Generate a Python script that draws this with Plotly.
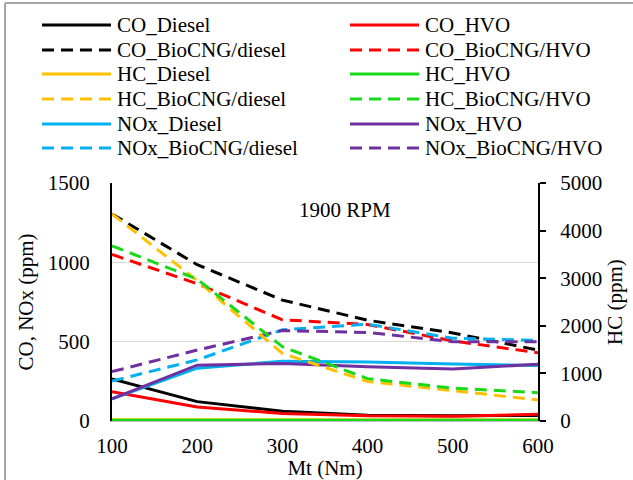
import plotly.graph_objects as go

torque = [100, 200, 300, 400, 500, 600]

co_diesel = [265, 122, 62, 37, 33, 35]
co_hvo = [185, 88, 48, 33, 30, 42]
co_biocng_diesel = [1305, 985, 762, 635, 555, 447]
co_biocng_hvo = [1050, 865, 638, 608, 505, 430]

hc_diesel = [25, 25, 24, 24, 24, 25]
hc_hvo = [15, 15, 15, 15, 15, 15]
hc_biocng_diesel = [4350, 2950, 1420, 830, 640, 440]
hc_biocng_hvo = [3680, 2980, 1560, 890, 690, 595]

nox_diesel = [140, 333, 376, 372, 360, 350]
nox_hvo = [140, 352, 362, 342, 328, 358]
nox_biocng_diesel = [252, 385, 575, 610, 522, 508]
nox_biocng_hvo = [311, 447, 570, 558, 500, 500]

names = ["CO_Diesel", "CO_HVO", "CO_BioCNG/diesel", "CO_BioCNG/HVO",
         "HC_Diesel", "HC_HVO", "HC_BioCNG/diesel", "HC_BioCNG/HVO",
         "NOx_Diesel", "NOx_HVO", "NOx_BioCNG/diesel", "NOx_BioCNG/HVO"]

BLACK, RED, ORANGE, GREEN, CYAN, PURPLE = "#000000", "#FF0000", "#FFC000", "#19D919", "#00B0F0", "#7030A0"
DASH = "12px,7px"

series = [
    (names[0], co_diesel, BLACK, "solid", "y"),
    (names[1], co_hvo, RED, "solid", "y"),
    (names[2], co_biocng_diesel, BLACK, DASH, "y"),
    (names[3], co_biocng_hvo, RED, DASH, "y"),
    (names[4], hc_diesel, ORANGE, "solid", "y2"),
    (names[5], hc_hvo, GREEN, "solid", "y2"),
    (names[6], hc_biocng_diesel, ORANGE, DASH, "y2"),
    (names[7], hc_biocng_hvo, GREEN, DASH, "y2"),
    (names[8], nox_diesel, CYAN, "solid", "y"),
    (names[9], nox_hvo, PURPLE, "solid", "y"),
    (names[10], nox_biocng_diesel, CYAN, DASH, "y"),
    (names[11], nox_biocng_hvo, PURPLE, DASH, "y"),
]

FONT = "Liberation Serif, Times New Roman, serif"
FS = 21
W, H = 633, 480
L, R, T, B = 112, 95, 183, 59
PW, PH = W - L - R, H - T - B

def px(x):
    return (x - L) / PW

def py(y):
    return (H - B - y) / PH

fig = go.Figure()
for name, vals, color, dash, yax in series:
    fig.add_trace(go.Scatter(x=torque, y=vals, name=name, mode="lines", yaxis=yax,
                             line=dict(color=color, width=3, dash=dash), showlegend=False))

# manual two-column legend
shapes = []
annotations = []
col_x = [42, 350]
row_y = [25, 50, 74, 99, 124, 148]
for i, (name, vals, color, dash, yax) in enumerate(series):
    r, c = i // 2, i % 2
    x0 = col_x[c]
    yy = row_y[r]
    shapes.append(dict(type="line", xref="paper", yref="paper",
                       x0=px(x0), x1=px(x0 + 69), y0=py(yy), y1=py(yy),
                       line=dict(color=color, width=3, dash=dash)))
    annotations.append(dict(xref="paper", yref="paper", x=px(x0 + 73), y=py(yy),
                            xanchor="left", yanchor="middle", text=name, showarrow=False,
                            font=dict(family=FONT, size=FS, color="#000000")))

# outer chart border (partially visible)
shapes.append(dict(type="line", xref="paper", yref="paper", x0=px(5), x1=px(5),
                   y0=py(3), y1=py(500), line=dict(color="#A6A6A6", width=2)))
shapes.append(dict(type="line", xref="paper", yref="paper", x0=px(5), x1=px(700),
                   y0=py(3), y1=py(3), line=dict(color="#A6A6A6", width=2)))

annotations.append(dict(xref="paper", yref="paper", x=px(345), y=py(210), text="1900 RPM",
                        showarrow=False, xanchor="center", yanchor="middle",
                        font=dict(family=FONT, size=FS, color="#000000")))

fig.update_layout(
    width=W, height=H,
    margin=dict(l=L, r=R, t=T, b=B, autoexpand=False),
    paper_bgcolor="white", plot_bgcolor="white",
    font=dict(family=FONT, size=FS, color="#000000"),
    showlegend=False,
    xaxis=dict(range=[100, 600], tickvals=torque, ticktext=[str(t) for t in torque],
               showgrid=False, zeroline=False, showline=True, linecolor="#BFBFBF", linewidth=1,
               ticks="", ticklabelstandoff=6, automargin=False,
               title=dict(text="Mt (Nm)", standoff=6, font=dict(family=FONT, size=FS))),
    yaxis=dict(range=[0, 1500], dtick=500, showgrid=True, gridcolor="#D9D9D9", gridwidth=1,
               zeroline=False, showline=True, linecolor="#000000", linewidth=2, ticks="",
               ticklabelstandoff=16, automargin=False,
               title=dict(text="CO, NOx (ppm)", standoff=8, font=dict(family=FONT, size=FS))),
    yaxis2=dict(range=[0, 5000], dtick=1000, overlaying="y", side="right", showgrid=False,
                zeroline=False, showline=True, linecolor="#000000", linewidth=2,
                ticks="outside", ticklen=6, tickwidth=2, tickcolor="#000000",
                ticklabelstandoff=10, automargin=False,
                title=dict(text="HC (ppm)", standoff=6, font=dict(family=FONT, size=FS))),
    shapes=shapes,
    annotations=annotations,
)

fig.write_html("out.html", config={"displayModeBar": False})

# remove the default browser body margin so the figure sits at the page origin
with open("out.html", "r", encoding="utf-8") as f:
    html = f.read()
html = html.replace("<head>", "<head><style>html,body{margin:0;padding:0;overflow:hidden;}</style>", 1)
with open("out.html", "w", encoding="utf-8") as f:
    f.write(html)
